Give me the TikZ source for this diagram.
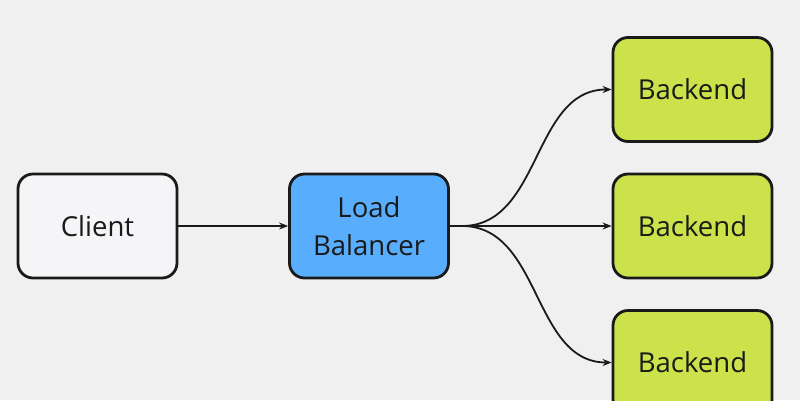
\documentclass[tikz,border=0pt]{standalone}
\usepackage{fontspec}
\setmainfont{Open Sans}
\usetikzlibrary{arrows.meta}
\definecolor{bg}{HTML}{F0F0F0}
\definecolor{clientfill}{HTML}{F5F5F7}
\definecolor{lbfill}{HTML}{58AEFC}
\definecolor{befill}{HTML}{CCE24B}
\definecolor{edge}{HTML}{1A1A1A}
\tikzset{
  box/.style={draw=edge, line width=2.8pt, rounded corners=15pt, minimum width=159pt, minimum height=104pt, inner sep=0pt, align=center, font=\fontsize{27.5}{38}\selectfont, text=edge},
  conn/.style={draw=edge, line width=1.8pt, -{Stealth[length=9pt,width=7pt]}}
}
\begin{document}
\begin{tikzpicture}[x=1pt,y=-1pt]
\fill[bg] (0,0) rectangle (800,400);
\useasboundingbox (0,0) rectangle (800,400);
\node[box, fill=clientfill] (client) at (97.5,226) {Client};
\node[box, fill=lbfill] (lb) at (369,226) {Load\\Balancer};
\node[box, fill=befill] (b1) at (692.5,89.5) {Backend};
\node[box, fill=befill] (b2) at (692.5,226) {Backend};
\node[box, fill=befill] (b3) at (692.5,362.5) {Backend};
\draw[conn] (client) -- (lb);
\coordinate (fan) at (462,226);
\draw[conn] (lb.east) -- (fan) to[out=0,in=180] (b1.west);
\draw[conn] (lb.east) -- (b2.west);
\draw[conn] (lb.east) -- (fan) to[out=0,in=180] (b3.west);
\end{tikzpicture}
\end{document}
